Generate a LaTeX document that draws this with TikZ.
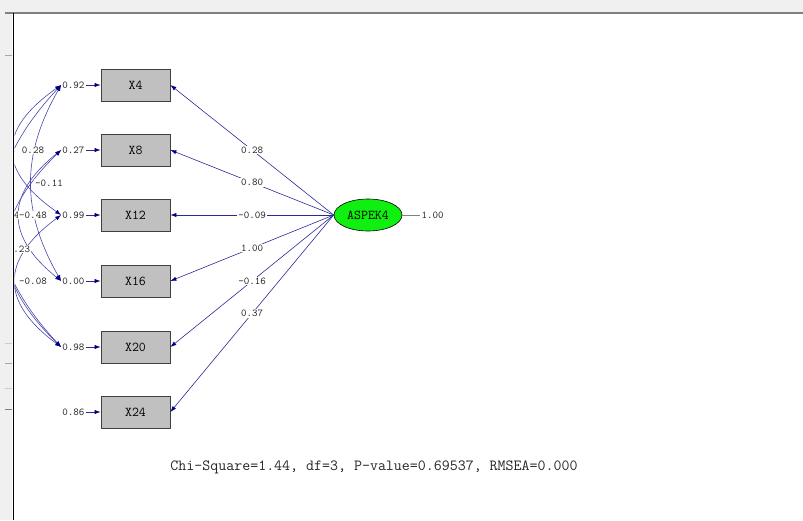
\documentclass[tikz,border=0pt]{standalone}
\usepackage{tikz}
\usetikzlibrary{shapes.geometric, arrows.meta, positioning}
\definecolor{pathnavy}{HTML}{2A2A96}
\definecolor{tipnavy}{HTML}{000080}
\definecolor{covblue}{HTML}{4646AE}
\definecolor{boxgray}{HTML}{C0C0C0}
\definecolor{latentgreen}{HTML}{10F010}
\definecolor{framegray}{HTML}{F0F0F0}

\begin{document}
\begin{tikzpicture}[x=1pt, y=-1pt, font=\ttfamily, >={Latex[length=6pt, width=4.2pt, color=tipnavy]}]
    \tikzstyle{obs} = [rectangle, draw=black!75, fill=boxgray, line width=0.8pt, minimum width=69pt,
      minimum height=32pt, inner sep=0pt, font=\ttfamily\fontsize{13.5}{14}\selectfont]
    \tikzstyle{errlab} = [inner sep=1pt, text=black!85, font=\ttfamily\fontsize{10.5}{11}\selectfont]
    \tikzstyle{plab} = [fill=white, inner sep=1pt, text=black!85, font=\ttfamily\fontsize{10.5}{11}\selectfont]
    \tikzstyle{load} = [->, pathnavy, line width=0.6pt]
    \tikzstyle{cov} = [<->, covblue, line width=0.6pt]

    \useasboundingbox (0,0) rectangle (803,520);

    % window frame
    \fill[framegray] (0,0) rectangle (803,12);
    \fill[framegray] (0,12) rectangle (12,520);
    \draw[gray!70, line width=0.8pt] (5,55) -- (12,55);
    \draw[gray!40, line width=0.8pt] (5,343) -- (12,343);
    \draw[gray!70, line width=0.8pt] (5,363) -- (12,363);
    \draw[gray!40, line width=0.8pt] (5,388) -- (12,388);
    \draw[gray, line width=1pt] (5,409) -- (12,409);
    \draw[gray, line width=1.5pt] (5,13) -- (803,13);
    \draw[black, line width=1.5pt] (13.5,13) -- (13.5,520);

    % Layout: one column of indicators, latent factor to the right
    \node (x4)  [obs] at (135.5,85)  {X4};
    \node (x8)  [obs] at (135.5,150) {X8};
    \node (x12) [obs] at (135.5,215) {X12};
    \node (x16) [obs] at (135.5,281) {X16};
    \node (x20) [obs] at (135.5,347) {X20};
    \node (x24) [obs] at (135.5,412) {X24};
    \node (aspek4) [ellipse, draw=black, fill=latentgreen, line width=0.6pt, minimum width=68pt,
      minimum height=32pt, inner sep=0pt, font=\ttfamily\fontsize{13.5}{14}\selectfont] at (368,215) {ASPEK4};

    % error variances
    \node (e4)  [errlab, left=15pt of x4]  {0.92};
    \node (e8)  [errlab, left=15pt of x8]  {0.27};
    \node (e12) [errlab, left=15pt of x12] {0.99};
    \node (e16) [errlab, left=15pt of x16] {0.00};
    \node (e20) [errlab, left=15pt of x20] {0.98};
    \node (e24) [errlab, left=15pt of x24] {0.86};
    \node (ea)  [errlab, right=18pt of aspek4] {1.00};

    \draw[->, pathnavy, line width=0.6pt] (e4)  -- (x4);
    \draw[->, pathnavy, line width=0.6pt] (e8)  -- (x8);
    \draw[->, pathnavy, line width=0.6pt] (e12) -- (x12);
    \draw[->, pathnavy, line width=0.6pt] (e16) -- (x16);
    \draw[->, pathnavy, line width=0.6pt] (e20) -- (x20);
    \draw[->, pathnavy, line width=0.6pt] (e24) -- (x24);
    \draw[gray, line width=0.5pt] (aspek4.east) -- (ea.west);

    % ASPEK4 -> indicators
    \draw[load] (aspek4.west) -- (x4.east)  node[midway, plab] {0.28};
    \draw[load] (aspek4.west) -- (x8.east)  node[midway, plab] {0.80};
    \draw[load] (aspek4.west) -- (x12.east) node[midway, plab] {-0.09};
    \draw[load] (aspek4.west) -- (x16.east) node[midway, plab] {1.00};
    \draw[load] (aspek4.west) -- (x20.east) node[midway, plab] {-0.16};
    \draw[load] (aspek4.west) -- (x24.east) node[midway, plab] {0.37};

    % error covariances (cut off by the window edge)
    \begin{scope}
      \clip (14.5,13) rectangle (100,520);
      \draw[cov] (e4.west)  .. controls +(-64,45) and +(-64,-45) .. (e12.west);
      \draw[cov] (e4.west)  .. controls +(-40,70) and +(-40,-70) .. (e16.west);
      \draw[cov] (e4.west)  .. controls +(-84,90) and +(-84,-90) .. (e20.west);
      \draw[cov] (e8.west)  .. controls +(-56,45) and +(-56,-45) .. (e16.west);
      \draw[cov] (e8.west)  .. controls +(-72,70) and +(-72,-70) .. (e20.west);
      \draw[cov] (e12.west) .. controls +(-61,45) and +(-61,-45) .. (e20.west);
      \node (c1) [plab] at (33,150) {0.28};
      \node (c2) [plab] at (49,183) {-0.11};
      \node (c3) [plab] at (17,215) {4};
      \node (c4) [plab] at (33,215) {-0.48};
      \node (c5) [plab] at (19,249) {0.23};
      \node (c6) [plab] at (33,281) {-0.08};
    \end{scope}

    % fit statistics
    \node (fitstat) [text=black!85, font=\ttfamily\fontsize{15.5}{16}\selectfont] at (374,467)
      {Chi-Square=1.44, df=3, P-value=0.69537, RMSEA=0.000};
\end{tikzpicture}
\end{document}
